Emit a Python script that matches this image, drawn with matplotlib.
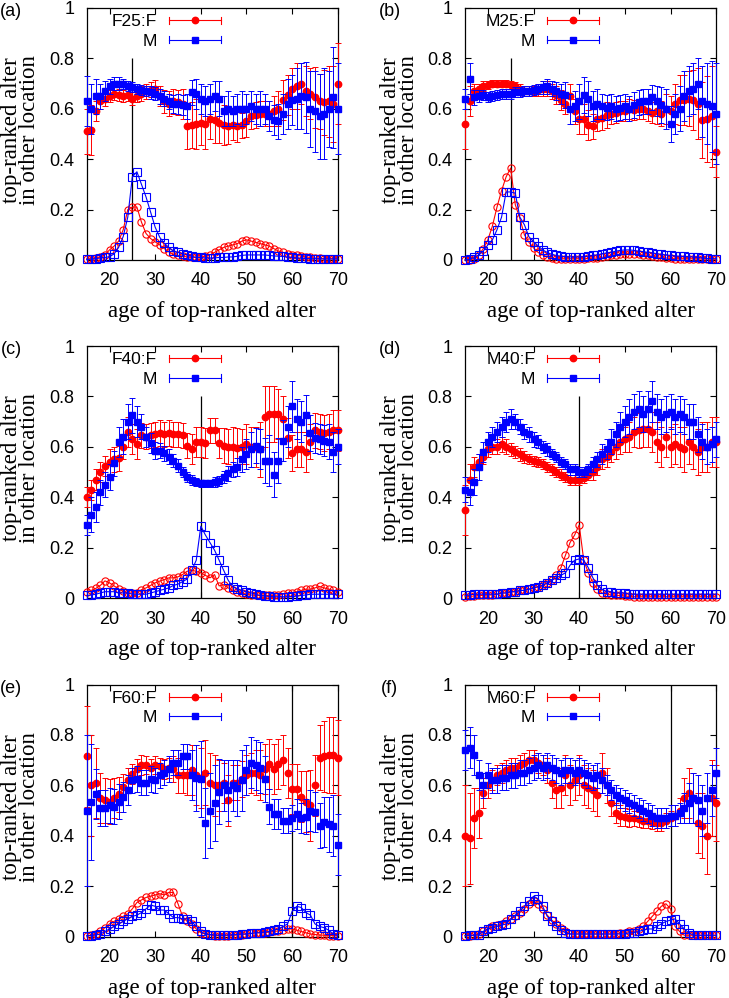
import matplotlib
matplotlib.use("Agg")
import matplotlib.pyplot as plt
from matplotlib.legend_handler import HandlerBase
from matplotlib.lines import Line2D

# ages of the top-ranked alter (x axis)
ages = list(range(15, 71))

# ---- panel (a) F25 ----
a_f = [0.51, 0.515, 0.59, 0.63, 0.64, 0.65, 0.66, 0.655, 0.65, 0.655,
       0.64, 0.65, 0.66, 0.67, 0.675, 0.68, 0.65, 0.63, 0.62, 0.63,
       0.625, 0.62, 0.53, 0.535, 0.54, 0.545, 0.54, 0.56, 0.555, 0.545,
       0.535, 0.53, 0.535, 0.53, 0.535, 0.55, 0.57, 0.575, 0.58, 0.58,
       0.58, 0.59, 0.60, 0.635, 0.655, 0.68, 0.69, 0.70, 0.67, 0.66,
       0.645, 0.63, 0.625, 0.63, 0.62, 0.70]
a_f_err = [0.09, 0.1, 0.04, 0.03, 0.03, 0.025, 0.025, 0.025, 0.025, 0.025,
           0.025, 0.025, 0.03, 0.03, 0.03, 0.035, 0.04, 0.045, 0.05, 0.05,
           0.05, 0.06, 0.09, 0.09, 0.1, 0.09, 0.1, 0.08, 0.09, 0.08,
           0.08, 0.07, 0.06, 0.06, 0.05, 0.06, 0.05, 0.05, 0.05, 0.05,
           0.05, 0.06, 0.07, 0.08, 0.08, 0.08, 0.09, 0.08, 0.1, 0.1,
           0.12, 0.11, 0.13, 0.14, 0.15, 0.16]
a_m = [0.63, 0.60, 0.65, 0.65, 0.67, 0.69, 0.70, 0.70, 0.70, 0.69,
       0.685, 0.68, 0.675, 0.67, 0.665, 0.66, 0.65, 0.64, 0.63, 0.62,
       0.62, 0.615, 0.61, 0.665, 0.66, 0.64, 0.63, 0.64, 0.65, 0.64,
       0.59, 0.60, 0.59, 0.60, 0.60, 0.60, 0.61, 0.60, 0.60, 0.60,
       0.57, 0.555, 0.55, 0.58, 0.62, 0.635, 0.64, 0.65, 0.645, 0.60,
       0.59, 0.57, 0.58, 0.60, 0.645, 0.60]
a_m_err = [0.1, 0.1, 0.07, 0.05, 0.04, 0.03, 0.025, 0.025, 0.02, 0.02,
           0.02, 0.02, 0.02, 0.02, 0.025, 0.025, 0.03, 0.03, 0.03, 0.035,
           0.04, 0.04, 0.05, 0.05, 0.06, 0.06, 0.06, 0.06, 0.06, 0.07,
           0.06, 0.07, 0.06, 0.06, 0.07, 0.06, 0.06, 0.06, 0.07, 0.06,
           0.06, 0.06, 0.07, 0.08, 0.1, 0.1, 0.12, 0.13, 0.14, 0.15,
           0.16, 0.17, 0.18, 0.15, 0.2, 0.18]
a_fd = [0.005, 0.005, 0.008, 0.012, 0.02, 0.04, 0.055, 0.075, 0.12, 0.2,
        0.21, 0.21, 0.15, 0.105, 0.085, 0.072, 0.06, 0.045, 0.032, 0.022,
        0.018, 0.015, 0.012, 0.01, 0.01, 0.012, 0.015, 0.02, 0.03, 0.04,
        0.05, 0.055, 0.06, 0.065, 0.075, 0.08, 0.075, 0.07, 0.065, 0.06,
        0.055, 0.045, 0.035, 0.03, 0.025, 0.02, 0.02, 0.015, 0.012, 0.01,
        0.008, 0.006, 0.005, 0.005, 0.005, 0.005]
a_md = [0.002, 0.003, 0.005, 0.008, 0.01, 0.013, 0.024, 0.05, 0.093, 0.17,
        0.33, 0.35, 0.30, 0.25, 0.19, 0.13, 0.09, 0.066, 0.05, 0.035,
        0.03, 0.025, 0.02, 0.015, 0.01, 0.01, 0.008, 0.008, 0.008, 0.01,
        0.01, 0.012, 0.012, 0.015, 0.018, 0.02, 0.02, 0.02, 0.02, 0.02,
        0.018, 0.016, 0.015, 0.014, 0.012, 0.01, 0.008, 0.007, 0.006, 0.005,
        0.005, 0.005, 0.004, 0.004, 0.004, 0.004]

# ---- panel (b) M25 ----
b_f = [0.54, 0.63, 0.67, 0.68, 0.69, 0.695, 0.70, 0.70, 0.70, 0.70,
       0.695, 0.69, 0.68, 0.67, 0.67, 0.67, 0.675, 0.68, 0.68, 0.67,
       0.655, 0.635, 0.62, 0.65, 0.59, 0.56, 0.56, 0.535, 0.53, 0.56,
       0.565, 0.575, 0.58, 0.585, 0.59, 0.59, 0.60, 0.595, 0.60, 0.60,
       0.59, 0.585, 0.59, 0.58, 0.60, 0.59, 0.62, 0.635, 0.635, 0.64,
       0.635, 0.62, 0.555, 0.56, 0.57, 0.43]
b_f_err = [0.1, 0.06, 0.03, 0.02, 0.02, 0.015, 0.015, 0.015, 0.015, 0.015,
           0.015, 0.015, 0.02, 0.02, 0.02, 0.02, 0.025, 0.03, 0.03, 0.03,
           0.035, 0.04, 0.04, 0.05, 0.05, 0.06, 0.06, 0.06, 0.05, 0.05,
           0.05, 0.05, 0.04, 0.04, 0.04, 0.04, 0.04, 0.04, 0.04, 0.04,
           0.04, 0.04, 0.05, 0.05, 0.06, 0.06, 0.08, 0.1, 0.1, 0.11,
           0.12, 0.14, 0.15, 0.17, 0.2, 0.1]
b_m = [0.64, 0.72, 0.645, 0.65, 0.655, 0.645, 0.65, 0.655, 0.66, 0.66,
       0.66, 0.665, 0.665, 0.67, 0.67, 0.675, 0.68, 0.685, 0.69, 0.68,
       0.67, 0.66, 0.655, 0.60, 0.61, 0.63, 0.655, 0.64, 0.61, 0.62,
       0.61, 0.605, 0.61, 0.60, 0.605, 0.61, 0.60, 0.615, 0.625, 0.63,
       0.63, 0.645, 0.63, 0.615, 0.60, 0.54, 0.58, 0.60, 0.65, 0.67,
       0.68, 0.70, 0.63, 0.62, 0.61, 0.58]
b_m_err = [0.04, 0.06, 0.03, 0.025, 0.02, 0.02, 0.02, 0.02, 0.02, 0.02,
           0.02, 0.02, 0.02, 0.02, 0.02, 0.02, 0.02, 0.025, 0.03, 0.03,
           0.035, 0.04, 0.05, 0.06, 0.06, 0.07, 0.07, 0.07, 0.06, 0.06,
           0.05, 0.05, 0.05, 0.05, 0.05, 0.05, 0.05, 0.05, 0.05, 0.05,
           0.05, 0.05, 0.06, 0.07, 0.08, 0.07, 0.08, 0.09, 0.1, 0.1,
           0.1, 0.1, 0.14, 0.16, 0.18, 0.2]
b_fd = [0.0, 0.0, 0.005, 0.02, 0.045, 0.08, 0.135, 0.21, 0.275, 0.33,
        0.365, 0.22, 0.165, 0.10, 0.07, 0.048, 0.03, 0.02, 0.012, 0.008,
        0.005, 0.005, 0.005, 0.005, 0.005, 0.005, 0.005, 0.006, 0.007, 0.008,
        0.01, 0.015, 0.018, 0.02, 0.022, 0.025, 0.025, 0.025, 0.022, 0.02,
        0.018, 0.015, 0.012, 0.01, 0.008, 0.006, 0.005, 0.005, 0.005, 0.005,
        0.005, 0.004, 0.004, 0.004, 0.003, 0.003]
b_md = [0.0, 0.002, 0.01, 0.02, 0.035, 0.06, 0.08, 0.12, 0.17, 0.27,
        0.27, 0.265, 0.17, 0.14, 0.092, 0.073, 0.056, 0.04, 0.03, 0.022,
        0.018, 0.015, 0.013, 0.012, 0.012, 0.012, 0.013, 0.015, 0.018, 0.02,
        0.025, 0.028, 0.03, 0.035, 0.038, 0.04, 0.04, 0.038, 0.035, 0.033,
        0.03, 0.028, 0.025, 0.022, 0.02, 0.018, 0.016, 0.015, 0.014, 0.013,
        0.012, 0.01, 0.008, 0.006, 0.005, 0.005]

# ---- panel (c) F40 ----
c_f = [0.40, 0.43, 0.47, 0.50, 0.525, 0.54, 0.55, 0.555, 0.60, 0.66,
       0.63, 0.61, 0.645, 0.64, 0.645, 0.65, 0.655, 0.65, 0.655, 0.65,
       0.65, 0.645, 0.605, 0.59, 0.62, 0.62, 0.615, 0.665, 0.665, 0.615,
       0.605, 0.60, 0.60, 0.595, 0.60, 0.61, 0.60, 0.60, 0.59, 0.72,
       0.73, 0.73, 0.73, 0.71, 0.635, 0.575, 0.59, 0.59, 0.58, 0.62,
       0.665, 0.66, 0.655, 0.66, 0.665, 0.665]
c_f_err = [0.04, 0.04, 0.04, 0.04, 0.04, 0.05, 0.05, 0.05, 0.05, 0.06,
           0.06, 0.06, 0.05, 0.05, 0.05, 0.05, 0.05, 0.05, 0.05, 0.05,
           0.05, 0.05, 0.05, 0.06, 0.06, 0.06, 0.06, 0.05, 0.05, 0.06,
           0.07, 0.07, 0.08, 0.08, 0.07, 0.08, 0.08, 0.08, 0.11, 0.12,
           0.11, 0.11, 0.1, 0.09, 0.08, 0.07, 0.07, 0.07, 0.08, 0.07,
           0.07, 0.07, 0.07, 0.07, 0.08, 0.08]
c_m = [0.29, 0.33, 0.36, 0.42, 0.45, 0.48, 0.535, 0.62, 0.64, 0.70,
       0.725, 0.70, 0.68, 0.64, 0.615, 0.585, 0.585, 0.575, 0.56, 0.545,
       0.525, 0.50, 0.48, 0.47, 0.46, 0.455, 0.455, 0.455, 0.46, 0.465,
       0.48, 0.495, 0.51, 0.52, 0.55, 0.57, 0.59, 0.605, 0.59, 0.545,
       0.545, 0.49, 0.545, 0.625, 0.68, 0.76, 0.71, 0.70, 0.725, 0.655,
       0.635, 0.63, 0.625, 0.62, 0.58, 0.60]
c_m_err = [0.04, 0.07, 0.06, 0.05, 0.05, 0.05, 0.05, 0.06, 0.07, 0.07,
           0.07, 0.06, 0.05, 0.04, 0.04, 0.035, 0.03, 0.03, 0.03, 0.025,
           0.025, 0.02, 0.02, 0.02, 0.015, 0.015, 0.015, 0.015, 0.02, 0.02,
           0.025, 0.03, 0.03, 0.035, 0.05, 0.06, 0.07, 0.07, 0.08, 0.09,
           0.1, 0.09, 0.09, 0.08, 0.08, 0.1, 0.08, 0.08, 0.08, 0.07,
           0.06, 0.06, 0.06, 0.07, 0.08, 0.07]
c_fd = [0.025, 0.03, 0.038, 0.05, 0.068, 0.06, 0.048, 0.036, 0.026, 0.02,
        0.02, 0.02, 0.033, 0.04, 0.05, 0.06, 0.067, 0.073, 0.08, 0.08,
        0.084, 0.093, 0.106, 0.11, 0.106, 0.10, 0.09, 0.08, 0.093, 0.048,
        0.053, 0.04, 0.03, 0.025, 0.02, 0.015, 0.012, 0.01, 0.01, 0.01,
        0.01, 0.01, 0.012, 0.015, 0.02, 0.02, 0.025, 0.03, 0.035, 0.035,
        0.04, 0.046, 0.04, 0.035, 0.03, 0.025]
c_md = [0.01, 0.012, 0.015, 0.02, 0.025, 0.025, 0.025, 0.02, 0.02, 0.02,
        0.015, 0.015, 0.015, 0.015, 0.02, 0.025, 0.03, 0.035, 0.04, 0.05,
        0.055, 0.065, 0.075, 0.11, 0.15, 0.285, 0.25, 0.22, 0.19, 0.15,
        0.11, 0.07, 0.045, 0.035, 0.03, 0.025, 0.02, 0.015, 0.01, 0.008,
        0.006, 0.005, 0.005, 0.005, 0.005, 0.006, 0.008, 0.01, 0.012, 0.015,
        0.015, 0.015, 0.015, 0.015, 0.015, 0.015]

# ---- panel (d) M40 ----
d_f = [0.35, 0.47, 0.52, 0.54, 0.56, 0.59, 0.60, 0.60, 0.61, 0.60,
       0.59, 0.58, 0.57, 0.56, 0.55, 0.545, 0.54, 0.53, 0.52, 0.51,
       0.50, 0.49, 0.48, 0.47, 0.47, 0.47, 0.475, 0.49, 0.50, 0.52,
       0.55, 0.56, 0.58, 0.60, 0.62, 0.63, 0.64, 0.66, 0.665, 0.67,
       0.67, 0.66, 0.62, 0.60, 0.64, 0.60, 0.61, 0.60, 0.59, 0.62,
       0.60, 0.58, 0.60, 0.60, 0.62, 0.62]
d_f_err = [0.1, 0.06, 0.04, 0.03, 0.03, 0.03, 0.03, 0.03, 0.03, 0.03,
           0.025, 0.025, 0.025, 0.025, 0.02, 0.02, 0.02, 0.02, 0.02, 0.02,
           0.02, 0.02, 0.02, 0.02, 0.02, 0.02, 0.02, 0.02, 0.03, 0.03,
           0.04, 0.04, 0.04, 0.05, 0.05, 0.05, 0.06, 0.06, 0.07, 0.07,
           0.07, 0.08, 0.08, 0.08, 0.08, 0.08, 0.08, 0.08, 0.09, 0.09,
           0.09, 0.09, 0.1, 0.1, 0.1, 0.1]
d_m = [0.43, 0.42, 0.46, 0.52, 0.58, 0.62, 0.64, 0.66, 0.68, 0.70,
       0.71, 0.70, 0.68, 0.66, 0.65, 0.63, 0.62, 0.60, 0.59, 0.57,
       0.56, 0.54, 0.53, 0.51, 0.51, 0.50, 0.50, 0.51, 0.53, 0.55,
       0.57, 0.59, 0.62, 0.65, 0.68, 0.70, 0.72, 0.74, 0.75, 0.73,
       0.75, 0.78, 0.74, 0.72, 0.73, 0.74, 0.72, 0.73, 0.72, 0.70,
       0.70, 0.65, 0.62, 0.60, 0.61, 0.63]
d_m_err = [0.05, 0.05, 0.05, 0.05, 0.04, 0.04, 0.04, 0.04, 0.04, 0.04,
           0.04, 0.03, 0.03, 0.03, 0.03, 0.03, 0.025, 0.025, 0.025, 0.02,
           0.02, 0.02, 0.02, 0.02, 0.02, 0.02, 0.02, 0.02, 0.03, 0.03,
           0.04, 0.04, 0.05, 0.05, 0.06, 0.06, 0.07, 0.07, 0.07, 0.07,
           0.07, 0.08, 0.07, 0.07, 0.07, 0.07, 0.07, 0.07, 0.07, 0.07,
           0.07, 0.07, 0.07, 0.07, 0.07, 0.07]
d_fd = [0.005, 0.006, 0.008, 0.01, 0.01, 0.012, 0.012, 0.015, 0.02, 0.02,
        0.025, 0.025, 0.03, 0.03, 0.035, 0.04, 0.045, 0.05, 0.06, 0.07,
        0.09, 0.12, 0.17, 0.22, 0.25, 0.29, 0.15, 0.10, 0.06, 0.035,
        0.02, 0.015, 0.012, 0.01, 0.01, 0.008, 0.006, 0.005, 0.005, 0.005,
        0.005, 0.005, 0.005, 0.005, 0.005, 0.005, 0.005, 0.005, 0.005, 0.005,
        0.005, 0.005, 0.005, 0.005, 0.005, 0.005]
d_md = [0.01, 0.012, 0.015, 0.015, 0.015, 0.015, 0.015, 0.015, 0.02, 0.02,
        0.025, 0.025, 0.03, 0.03, 0.035, 0.04, 0.045, 0.05, 0.06, 0.07,
        0.08, 0.09, 0.10, 0.13, 0.15, 0.155, 0.15, 0.12, 0.08, 0.05,
        0.035, 0.025, 0.025, 0.02, 0.02, 0.02, 0.015, 0.015, 0.015, 0.015,
        0.015, 0.015, 0.015, 0.015, 0.015, 0.015, 0.015, 0.015, 0.015, 0.015,
        0.015, 0.015, 0.015, 0.015, 0.015, 0.015]

# ---- panel (e) F60 ----
e_f = [0.715, 0.60, 0.61, 0.55, 0.54, 0.535, 0.55, 0.565, 0.595, 0.62,
       0.645, 0.665, 0.68, 0.68, 0.67, 0.68, 0.675, 0.665, 0.67, 0.665,
       0.64, 0.64, 0.64, 0.66, 0.64, 0.63, 0.65, 0.61, 0.60, 0.60,
       0.61, 0.54, 0.61, 0.61, 0.625, 0.64, 0.65, 0.65, 0.64, 0.665,
       0.685, 0.665, 0.685, 0.70, 0.65, 0.585, 0.585, 0.555, 0.535, 0.52,
       0.60, 0.71, 0.715, 0.72, 0.72, 0.71]
e_f_err = [0.2, 0.2, 0.14, 0.1, 0.09, 0.09, 0.08, 0.07, 0.05, 0.05,
           0.04, 0.04, 0.04, 0.035, 0.035, 0.035, 0.035, 0.04, 0.04, 0.05,
           0.07, 0.07, 0.08, 0.1, 0.12, 0.12, 0.13, 0.12, 0.12, 0.1,
           0.08, 0.1, 0.07, 0.07, 0.07, 0.08, 0.08, 0.09, 0.1, 0.1,
           0.1, 0.1, 0.1, 0.1, 0.1, 0.1, 0.1, 0.1, 0.12, 0.14,
           0.12, 0.13, 0.14, 0.15, 0.15, 0.15]
e_m = [0.50, 0.535, 0.565, 0.51, 0.51, 0.52, 0.515, 0.535, 0.555, 0.58,
       0.62, 0.625, 0.61, 0.61, 0.625, 0.62, 0.64, 0.65, 0.665, 0.69,
       0.69, 0.715, 0.715, 0.64, 0.63, 0.625, 0.45, 0.50, 0.53, 0.575,
       0.60, 0.58, 0.60, 0.59, 0.62, 0.66, 0.69, 0.68, 0.67, 0.625,
       0.515, 0.485, 0.485, 0.46, 0.46, 0.47, 0.485, 0.47, 0.475, 0.50,
       0.495, 0.44, 0.455, 0.445, 0.44, 0.365]
e_m_err = [0.3, 0.23, 0.1, 0.07, 0.07, 0.07, 0.07, 0.07, 0.06, 0.06,
           0.05, 0.05, 0.05, 0.05, 0.05, 0.05, 0.05, 0.05, 0.05, 0.05,
           0.05, 0.05, 0.05, 0.1, 0.13, 0.15, 0.14, 0.15, 0.15, 0.13,
           0.1, 0.12, 0.1, 0.11, 0.12, 0.1, 0.1, 0.1, 0.1, 0.09,
           0.07, 0.06, 0.06, 0.05, 0.05, 0.05, 0.06, 0.06, 0.07, 0.08,
           0.08, 0.09, 0.1, 0.11, 0.12, 0.12]
e_fd = [0.002, 0.005, 0.01, 0.02, 0.035, 0.05, 0.06, 0.07, 0.08, 0.09,
        0.11, 0.135, 0.145, 0.155, 0.16, 0.165, 0.17, 0.165, 0.175, 0.175,
        0.13, 0.08, 0.06, 0.05, 0.03, 0.015, 0.01, 0.006, 0.004, 0.003,
        0.003, 0.004, 0.005, 0.006, 0.008, 0.01, 0.012, 0.015, 0.015, 0.015,
        0.018, 0.02, 0.022, 0.025, 0.03, 0.03, 0.025, 0.02, 0.015, 0.01,
        0.008, 0.006, 0.005, 0.004, 0.004, 0.004]
e_md = [0.003, 0.004, 0.006, 0.01, 0.02, 0.03, 0.04, 0.05, 0.06, 0.07,
        0.08, 0.085, 0.095, 0.11, 0.125, 0.12, 0.105, 0.105, 0.09, 0.075,
        0.075, 0.07, 0.07, 0.06, 0.04, 0.02, 0.01, 0.008, 0.006, 0.005,
        0.005, 0.006, 0.007, 0.008, 0.01, 0.01, 0.012, 0.015, 0.015, 0.018,
        0.02, 0.025, 0.03, 0.04, 0.05, 0.10, 0.12, 0.115, 0.095, 0.085,
        0.05, 0.04, 0.035, 0.025, 0.01, 0.005]

# ---- panel (f) M60 ----
f_f = [0.40, 0.39, 0.47, 0.49, 0.57, 0.60, 0.62, 0.64, 0.65, 0.66,
       0.67, 0.67, 0.68, 0.69, 0.70, 0.70, 0.69, 0.68, 0.66, 0.61,
       0.58, 0.59, 0.64, 0.60, 0.62, 0.64, 0.60, 0.59, 0.58, 0.56,
       0.65, 0.60, 0.53, 0.49, 0.48, 0.475, 0.47, 0.47, 0.465, 0.46,
       0.46, 0.455, 0.45, 0.45, 0.46, 0.47, 0.48, 0.50, 0.55, 0.57,
       0.55, 0.45, 0.44, 0.40, 0.55, 0.53]
f_f_err = [0.2, 0.18, 0.12, 0.1, 0.06, 0.05, 0.04, 0.04, 0.04, 0.04,
           0.04, 0.04, 0.04, 0.04, 0.04, 0.04, 0.04, 0.04, 0.05, 0.06,
           0.07, 0.08, 0.08, 0.08, 0.08, 0.08, 0.08, 0.08, 0.08, 0.08,
           0.08, 0.07, 0.05, 0.04, 0.04, 0.035, 0.035, 0.03, 0.03, 0.03,
           0.03, 0.03, 0.03, 0.03, 0.03, 0.03, 0.04, 0.05, 0.08, 0.1,
           0.1, 0.12, 0.13, 0.15, 0.15, 0.15]
f_m = [0.74, 0.75, 0.72, 0.64, 0.60, 0.64, 0.62, 0.62, 0.63, 0.63,
       0.64, 0.64, 0.65, 0.65, 0.66, 0.67, 0.68, 0.67, 0.68, 0.67,
       0.66, 0.65, 0.66, 0.66, 0.65, 0.66, 0.65, 0.64, 0.63, 0.64,
       0.62, 0.60, 0.58, 0.56, 0.55, 0.54, 0.53, 0.52, 0.51, 0.50,
       0.49, 0.48, 0.47, 0.47, 0.47, 0.48, 0.48, 0.49, 0.51, 0.53,
       0.55, 0.54, 0.50, 0.55, 0.58, 0.65]
f_m_err = [0.08, 0.08, 0.08, 0.06, 0.05, 0.05, 0.05, 0.05, 0.05, 0.05,
           0.05, 0.05, 0.05, 0.05, 0.05, 0.05, 0.05, 0.05, 0.05, 0.05,
           0.05, 0.05, 0.05, 0.05, 0.05, 0.05, 0.05, 0.05, 0.05, 0.05,
           0.05, 0.04, 0.04, 0.04, 0.04, 0.04, 0.04, 0.04, 0.04, 0.04,
           0.04, 0.04, 0.04, 0.04, 0.04, 0.04, 0.04, 0.04, 0.06, 0.08,
           0.1, 0.1, 0.1, 0.1, 0.1, 0.1]
f_fd = [0.002, 0.004, 0.006, 0.01, 0.02, 0.03, 0.04, 0.045, 0.05, 0.06,
        0.07, 0.08, 0.095, 0.11, 0.13, 0.14, 0.13, 0.11, 0.085, 0.065,
        0.05, 0.035, 0.02, 0.01, 0.01, 0.01, 0.01, 0.01, 0.01, 0.01,
        0.01, 0.01, 0.01, 0.01, 0.015, 0.015, 0.02, 0.02, 0.03, 0.04,
        0.06, 0.08, 0.10, 0.12, 0.13, 0.11, 0.04, 0.02, 0.005, 0.005,
        0.005, 0.005, 0.005, 0.005, 0.005, 0.005]
f_md = [0.004, 0.005, 0.005, 0.006, 0.02, 0.03, 0.035, 0.04, 0.045, 0.05,
        0.07, 0.085, 0.1, 0.12, 0.14, 0.16, 0.15, 0.12, 0.08, 0.06,
        0.04, 0.025, 0.015, 0.01, 0.01, 0.01, 0.01, 0.01, 0.01, 0.01,
        0.01, 0.01, 0.01, 0.01, 0.01, 0.01, 0.015, 0.015, 0.02, 0.025,
        0.03, 0.03, 0.04, 0.05, 0.06, 0.065, 0.07, 0.05, 0.03, 0.015,
        0.005, 0.005, 0.005, 0.005, 0.005, 0.005]

panel_letters = ['(a)', '(b)', '(c)', '(d)', '(e)', '(f)']
key_labels = ['F25:F', 'M25:F', 'F40:F', 'M40:F', 'F60:F', 'M60:F']
ego_ages = [25, 25, 40, 40, 60, 60]
ego_line_top = [0.8, 0.8, 0.8, 0.8, 1.0, 1.0]
x_ticks = [20, 30, 40, 50, 60, 70]
y_ticks = [0, 0.2, 0.4, 0.6, 0.8, 1]
y_tick_labels = ['0', '0.2', '0.4', '0.6', '0.8', '1']

panels = [
    (a_f, a_f_err, a_m, a_m_err, a_fd, a_md),
    (b_f, b_f_err, b_m, b_m_err, b_fd, b_md),
    (c_f, c_f_err, c_m, c_m_err, c_fd, c_md),
    (d_f, d_f_err, d_m, d_m_err, d_fd, d_md),
    (e_f, e_f_err, e_m, e_m_err, e_fd, e_md),
    (f_f, f_f_err, f_m, f_m_err, f_fd, f_md),
]
for p in panels:
    for arr in p:
        assert len(arr) == len(ages)

RED = '#ff0000'
BLUE = '#0000ff'
SANS = 'Liberation Sans'
SERIF = 'Liberation Serif'


class HandlerHBar(HandlerBase):
    # gnuplot style key sample: horizontal bar with end caps and a point
    def create_artists(self, legend, orig_handle, xdescent, ydescent,
                       width, height, fontsize, trans):
        src = orig_handle.lines[0]
        col = src.get_color()
        y = height / 2.0 - ydescent
        x0 = -xdescent
        x1 = x0 + width
        cap = 0.3 * height
        arts = [Line2D([x0, x1], [y, y], color=col, lw=0.8),
                Line2D([x0, x0], [y - cap, y + cap], color=col, lw=0.8),
                Line2D([x1, x1], [y - cap, y + cap], color=col, lw=0.8),
                Line2D([(x0 + x1) / 2.0], [y], color=col, ls='none',
                       marker=src.get_marker(), ms=src.get_markersize())]
        for a in arts:
            a.set_transform(trans)
        return arts


plt.rcParams['font.family'] = SANS
fig = plt.figure(figsize=(7.29, 9.98), dpi=100)

lefts = [0.1189, 0.6379]
bottoms = [0.7395, 0.4008, 0.0616]
w, h = 0.3445, 0.2525

for i, (fm, fe, mm, me, fd, md) in enumerate(panels):
    ax = fig.add_axes([lefts[i % 2], bottoms[i // 2], w, h])

    ef = ax.errorbar(ages, fm, yerr=fe, fmt='o', color=RED, ms=4.6,
                     elinewidth=0.7, capsize=2.4, capthick=0.7, clip_on=False, zorder=3)
    em = ax.errorbar(ages, mm, yerr=me, fmt='s', color=BLUE, ms=4.8,
                     elinewidth=0.7, capsize=2.4, capthick=0.7, clip_on=False, zorder=4)
    ax.plot(ages, fd, '-o', color=RED, mfc='none', ms=5.2, mew=0.8, lw=0.8,
            clip_on=False, zorder=5)
    ax.plot(ages, md, '-s', color=BLUE, mfc='none', ms=5.2, mew=0.8, lw=0.8,
            clip_on=False, zorder=6)
    ax.vlines(ego_ages[i], 0, ego_line_top[i], color='black', lw=0.9, zorder=2)

    ax.set_xlim(15, 70)
    ax.set_ylim(0, 1)
    ax.set_xticks(x_ticks)
    ax.set_yticks(y_ticks)
    ax.set_yticklabels(y_tick_labels)
    ax.tick_params(direction='in', top=True, right=True, length=4.5, width=0.8,
                   labelsize=13, pad=9)
    for s in ax.spines.values():
        s.set_linewidth(0.9)

    ax.set_xlabel('age of top-ranked alter', family=SERIF, fontsize=16.5, va='center')
    ax.xaxis.set_label_coords(0.5, -0.205)
    ax.set_ylabel('top-ranked alter\nin other location', family=SERIF, fontsize=16.5,
                  va='center', linespacing=0.8)
    ax.yaxis.set_label_coords(-0.262, 0.515)

    ax.text(-0.30, 0.985, panel_letters[i], transform=ax.transAxes,
            ha='center', va='center', fontsize=13)

    ax.legend([ef, em], [key_labels[i], 'M'], loc='upper right',
              bbox_to_anchor=(0.535, 0.975), frameon=False, markerfirst=False,
              fontsize=12.5, handlelength=3.0, handletextpad=0.7,
              labelspacing=0.25, borderpad=0, borderaxespad=0,
              handler_map={ef: HandlerHBar(), em: HandlerHBar()})

fig.savefig('out.png', dpi=100)
